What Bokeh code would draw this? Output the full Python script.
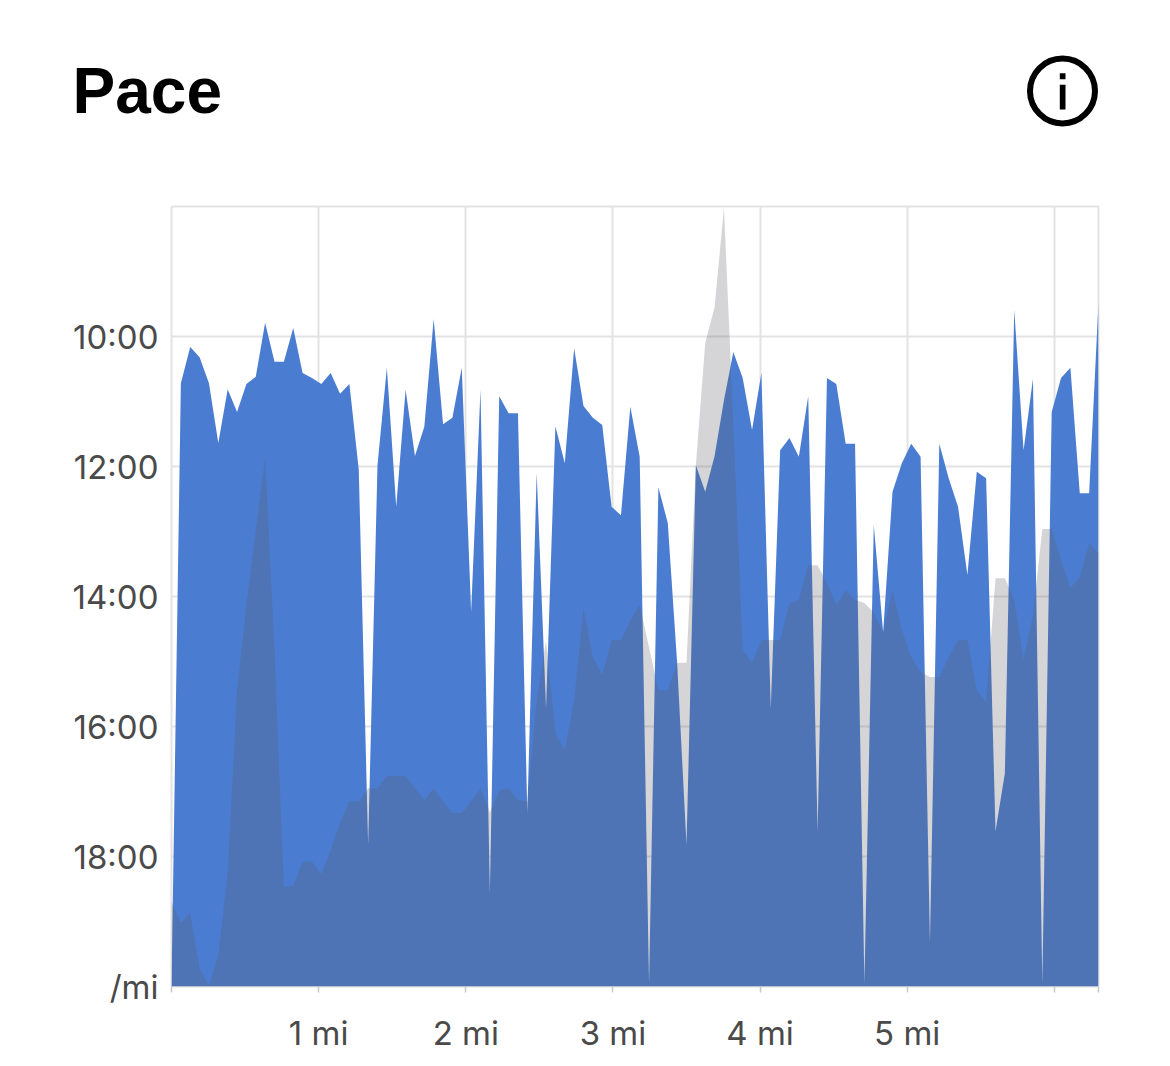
from bokeh.plotting import figure
from bokeh.layouts import column
from bokeh.models import Range1d, FixedTicker
from bokeh.core.properties import value
from bokeh.embed import file_html
from bokeh.resources import INLINE
import numpy as np

# pace in decimal minutes per mile, one sample per step along the course
pace_current = [20.0,10.72,10.16,10.32,10.72,11.64,10.81,11.16,10.73,10.62,
 9.79,10.39,10.39,9.87,10.56,10.64,10.73,10.56,10.88,10.73,
 12.05,17.82,11.98,10.48,12.62,10.82,11.84,11.39,9.73,11.35,
 11.25,10.48,14.24,10.82,18.56,10.92,11.18,11.18,17.33,12.10,
 15.72,11.38,11.95,10.18,11.07,11.25,11.36,12.62,12.75,11.08,
 11.85,19.95,12.32,12.87,15.02,17.82,11.98,12.39,11.84,10.98,
 10.24,10.64,11.44,10.56,15.72,11.75,11.56,11.85,10.92,17.62,
 10.64,10.73,11.65,11.65,19.95,12.90,14.55,12.39,11.95,11.65,
 11.85,19.33,11.65,12.18,12.62,13.67,12.08,12.18,17.61,16.72,
 9.59,11.75,10.65,19.95,11.16,10.64,10.48,12.41,12.41,9.48]

pace_compare = [18.70,19.02,18.87,19.72,19.98,19.52,18.25,15.44,14.13,12.98,
 11.85,14.82,18.47,18.45,18.08,18.08,18.27,17.90,17.48,17.15,
 17.15,16.95,16.95,16.76,16.76,16.76,16.95,17.13,16.95,17.15,
 17.33,17.33,17.15,16.95,17.32,16.98,16.95,17.13,17.15,15.59,
 14.68,16.10,16.36,15.59,14.18,14.93,15.21,14.67,14.67,14.36,
 14.13,14.78,15.44,15.44,15.02,15.02,11.98,10.10,9.55,8.02,
 11.33,14.82,15.02,14.67,14.67,14.67,14.10,14.05,13.52,13.52,
 13.79,14.13,13.90,14.05,14.10,14.25,14.55,13.90,14.52,14.93,
 15.16,15.24,15.24,14.93,14.67,14.67,15.44,15.62,13.72,13.72,
 14.05,14.98,14.28,12.96,12.96,13.44,13.87,13.70,13.18,13.33]

total_miles = 6.3
distance = np.linspace(0, total_miles, len(pace_current)).tolist()
baseline = [20.0] * len(pace_current)

y_ticks = [10, 12, 14, 16, 18, 20]
y_labels = ["10:00", "12:00", "14:00", "16:00", "18:00", "/mi"]
x_ticks = [0, 1, 2, 3, 4, 5, 6, 6.3]
x_labels = ["", "1 mi", "2 mi", "3 mi", "4 mi", "5 mi", "", ""]

title_text = "Pace"
LABEL_FONT = "Inter"
TITLE_FONT = "Liberation Sans"

# header strip: title and info icon
head = figure(width=1160, height=205, output_backend="svg", toolbar_location=None,
              x_range=Range1d(0, 1160), y_range=Range1d(205, 0), min_border=0,
              outline_line_color=None)
head.frame_align = False
head.axis.visible = False
head.grid.visible = False
head.text(x=[72], y=[90], text=[title_text], text_font=value(TITLE_FONT),
          text_font_style="bold", text_font_size="64px", text_color="#000000",
          text_baseline="alphabetic", text_align="left")
head.circle(x=[1062], y=[90.5], radius=32.5, fill_color=None,
            line_color="#000000", line_width=6)
head.quad(left=[1059.3, 1059.3], right=[1065, 1065], top=[72.7, 84.3], bottom=[78.7, 109],
          fill_color="#000000", line_color=None)

# chart
p = figure(width=1160, height=855, output_backend="svg", toolbar_location=None,
           x_range=Range1d(0, total_miles), y_range=Range1d(20, 8),
           min_border_left=171, min_border_right=62, min_border_top=1, min_border_bottom=74,
           outline_line_color="#e3e3e3", outline_line_width=2)
p.frame_align = False

p.varea(x=distance, y1=pace_current, y2=baseline, fill_color="#4a7dd1")
p.varea(x=distance, y1=pace_compare, y2=baseline, fill_color="#5c5c68", fill_alpha=0.26)

p.xaxis.ticker = FixedTicker(ticks=x_ticks)
p.xaxis.major_label_overrides = dict(zip(x_ticks, x_labels))
p.yaxis.ticker = FixedTicker(ticks=y_ticks)
p.yaxis.major_label_overrides = dict(zip(y_ticks, y_labels))
p.xgrid.ticker = FixedTicker(ticks=x_ticks[1:-1])
p.ygrid.ticker = FixedTicker(ticks=y_ticks[:-1])
p.grid.grid_line_color = "#e3e3e3"
p.grid.grid_line_width = 2

p.xaxis.axis_line_color = None
p.yaxis.axis_line_color = None
p.yaxis.major_tick_line_color = None
p.yaxis.major_tick_in = 0
p.yaxis.major_tick_out = 0
p.axis.minor_tick_line_color = None
p.xaxis.major_tick_line_color = "#c8c8c8"
p.xaxis.major_tick_line_width = 1.5
p.xaxis.major_tick_in = 0
p.xaxis.major_tick_out = 6
p.axis.major_label_text_font = LABEL_FONT
p.axis.major_label_text_font_size = "33px"
p.axis.major_label_text_color = "#4a4a4a"
p.yaxis.major_label_standoff = 13
p.xaxis.major_label_standoff = 20

open("out.html", "w").write(file_html(column(head, p), INLINE))
